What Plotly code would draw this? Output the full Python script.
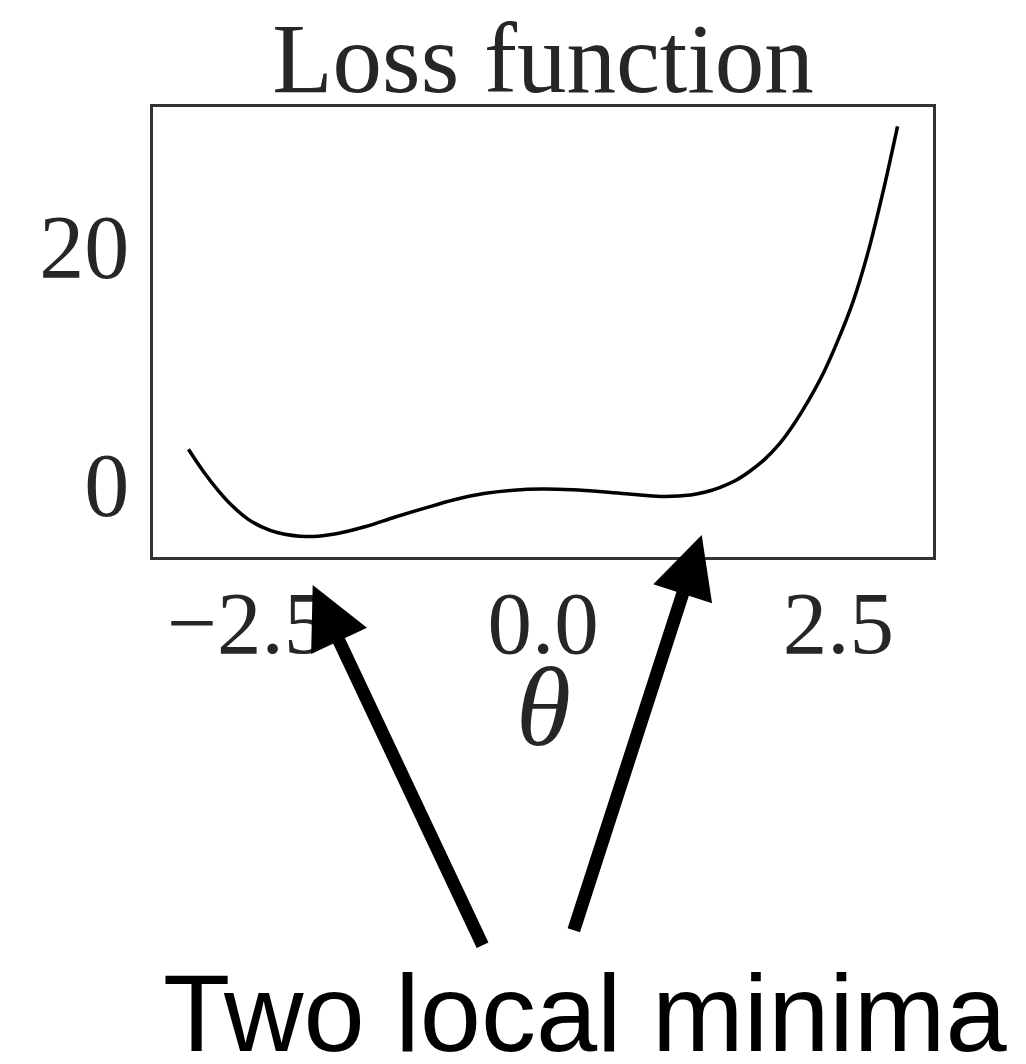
import plotly.graph_objects as go

# Loss curve sampled along theta
theta = [-3.0, -2.875, -2.75, -2.625, -2.5, -2.375, -2.25, -2.0, -1.75, -1.5, -1.25,
         -1.0, -0.75, -0.5, -0.25, 0.0, 0.25, 0.5, 0.75, 1.0, 1.25, 1.375, 1.5,
         1.625, 1.75, 1.875, 2.0, 2.125, 2.25, 2.375, 2.5, 2.625, 2.75, 2.875, 3.0]
loss = [3.15, 1.3, -0.3, -1.65, -2.7, -3.4, -3.85, -4.19, -3.95, -3.35, -2.55,
        -1.8, -1.1, -0.58, -0.3, -0.2, -0.26, -0.42, -0.64, -0.82, -0.7, -0.45, -0.05,
        0.5, 1.3, 2.3, 3.6, 5.3, 7.3, 9.6, 12.4, 15.6, 19.7, 24.7, 30.3]

x_tickvals = [-2.5, 0.0, 2.5]
x_ticktext = ["\u22122.5", "0.0", "2.5"]
y_tickvals = [0, 20]
y_ticktext = ["0", "20"]

W, H = 1026, 1064
L, R, T, B = 153, 93, 107, 507
PW, PH = W - L - R, H - T - B

SERIF = "Liberation Serif, Times New Roman, serif"
SANS = "Liberation Sans, Arial, Helvetica, sans-serif"
INK = "#262626"


def paper(px, py):
    """Convert page pixel position into paper coordinates."""
    return (px - L) / PW, (T + PH - py) / PH


fig = go.Figure()
fig.add_trace(go.Scatter(
    x=theta, y=loss, mode="lines",
    line=dict(color="black", width=3.5, shape="spline", smoothing=1.0),
    showlegend=False, hoverinfo="skip",
))

fig.update_layout(
    width=W, height=H,
    margin=dict(l=L, r=R, t=T, b=B, autoexpand=False),
    paper_bgcolor="white", plot_bgcolor="white",
    title=dict(text="Loss function", x=0.5, xref="paper", xanchor="center",
               y=1 - 92 / H, yref="container", yanchor="bottom",
               font=dict(family=SERIF, size=99, color=INK)),
    xaxis=dict(range=[-3.3, 3.3], tickvals=x_tickvals, ticktext=x_ticktext,
               showgrid=False, zeroline=False, showline=True, mirror=True,
               linecolor="#333333", linewidth=2.5,
               ticks="outside", ticklen=0, tickcolor="rgba(0,0,0,0)",
               ticklabelstandoff=-14,
               tickfont=dict(family=SERIF, size=89, color=INK)),
    yaxis=dict(range=[-5.91, 31.92], tickvals=y_tickvals, ticktext=y_ticktext,
               showgrid=False, zeroline=False, showline=True, mirror=True,
               linecolor="#333333", linewidth=2.5,
               ticks="outside", ticklen=3, tickcolor="rgba(0,0,0,0)",
               ticklabelshift=-2,
               tickfont=dict(family=SERIF, size=90, color=INK)),
)

# Axis label under the x tick labels
lx, ly = paper(543, 707)
fig.add_annotation(
    x=lx, y=ly, xref="paper", yref="paper", xanchor="center", yanchor="middle",
    text="<i>\u03b8</i>", showarrow=False,
    font=dict(family=SERIF, size=112, color=INK),
)

# Arrows pointing from the caption towards the two minima
arrows = [
    ((312.7, 585.0), (483.3, 946.7)),
    ((701.7, 535.0), (573.3, 931.7)),
]
AW = 13
ASIZE = 0.95
for (tx, ty), (sx, sy) in arrows:
    xp, yp = paper(tx, ty)
    fig.add_annotation(
        x=xp, y=yp, xref="paper", yref="paper",
        ax=sx - tx, ay=sy - ty, axref="pixel", ayref="pixel",
        text="", showarrow=True, arrowhead=2, arrowsize=ASIZE,
        arrowwidth=AW, arrowcolor="black", standoff=0, startstandoff=0,
    )

cx, cy = paper(585, 1012)
fig.add_annotation(
    x=cx, y=cy, xref="paper", yref="paper", xanchor="center", yanchor="middle",
    text="Two local minima", showarrow=False,
    font=dict(family=SANS, size=110, color="black"),
)

fig.write_html("out.html")
